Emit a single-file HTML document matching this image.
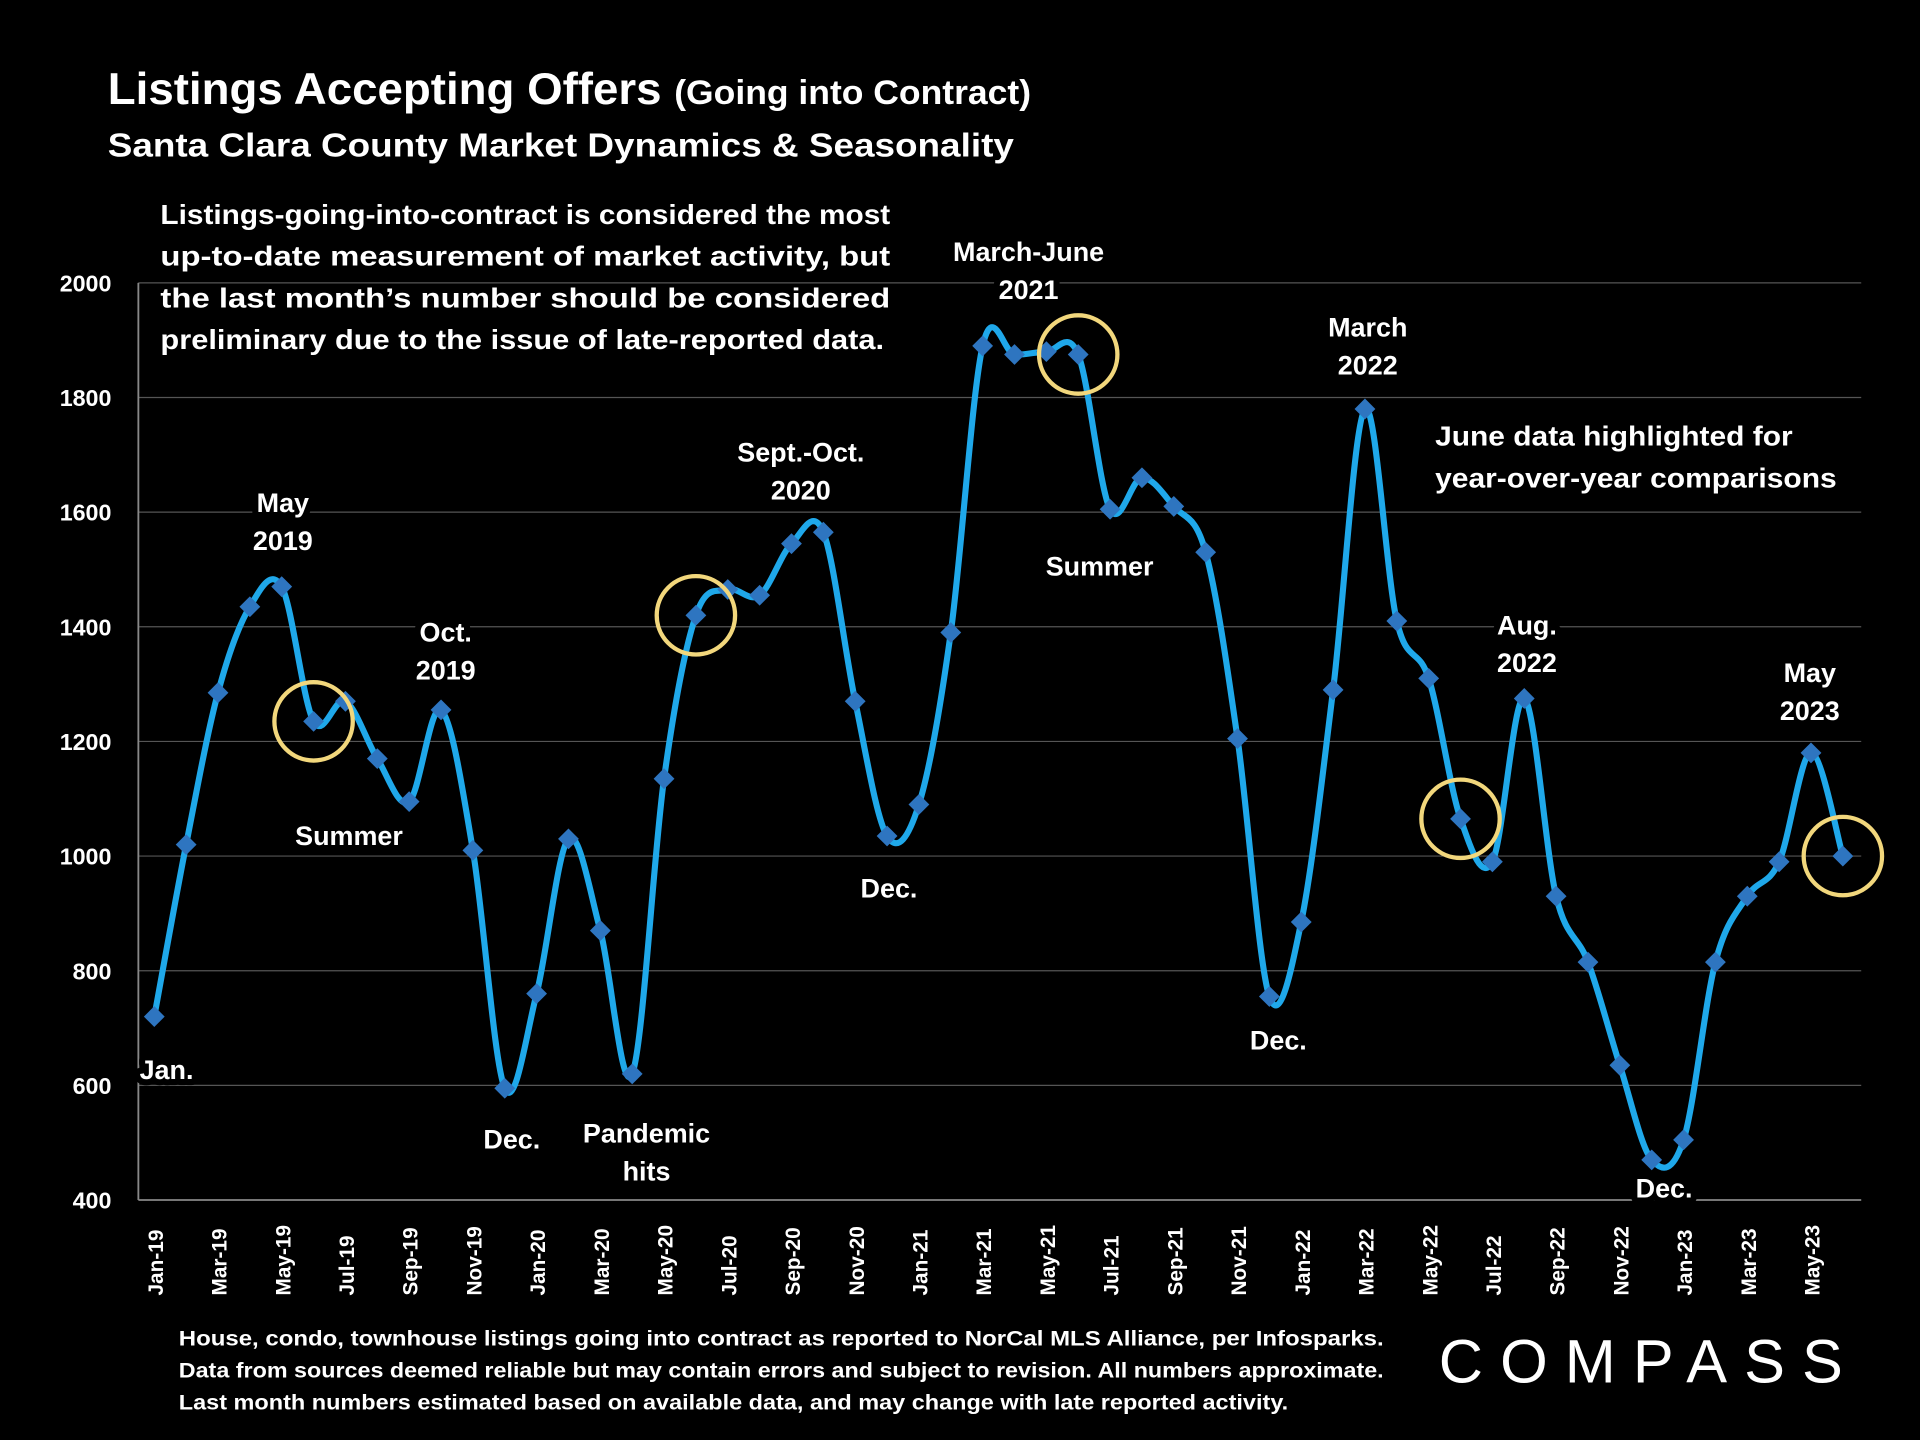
<!DOCTYPE html>
<html><head><meta charset="utf-8"><style>
html,body{margin:0;padding:0;background:#000;}
svg{display:block;}
text{font-family:"Liberation Sans",sans-serif;fill:#fff;font-weight:bold;}
.lbl{paint-order:stroke;stroke:#000;stroke-width:10px;stroke-linejoin:round;font-size:22px;}
</style></head><body>
<svg id="chart" width="1920" height="1440" viewBox="0 0 1568 1176" xmlns="http://www.w3.org/2000/svg">
<rect width="1568" height="1176" fill="#000"/>
<text x="88" y="85" font-size="36" textLength="754" lengthAdjust="spacingAndGlyphs">Listings Accepting Offers <tspan font-size="28">(Going into Contract)</tspan></text>
<text x="88" y="128" font-size="27" textLength="740" lengthAdjust="spacingAndGlyphs">Santa Clara County Market Dynamics &amp; Seasonality</text>
<g id="grid"></g>
<g id="ylabels"></g>
<g id="xlabels"></g>
<path id="line" fill="none" stroke="#1fa8ea" stroke-width="5" stroke-linejoin="round"/>
<g id="markers"></g>
<g id="circles"></g>
<g font-size="23">
<text x="131" y="183" textLength="596" lengthAdjust="spacingAndGlyphs">Listings-going-into-contract is considered the most</text>
<text x="131" y="217" textLength="596" lengthAdjust="spacingAndGlyphs">up-to-date measurement of market activity, but</text>
<text x="131" y="251" textLength="596" lengthAdjust="spacingAndGlyphs">the last month’s number should be considered</text>
<text x="131" y="285" textLength="591" lengthAdjust="spacingAndGlyphs">preliminary due to the issue of late-reported data.</text>
</g>
<g text-anchor="middle">
<text class="lbl" x="231" y="418">May</text><text class="lbl" x="231" y="449">2019</text>
<text class="lbl" x="364" y="524">Oct.</text><text class="lbl" x="364" y="555">2019</text>
<text class="lbl" x="285" y="690">Summer</text>
<text class="lbl" x="136" y="881">Jan.</text>
<text class="lbl" x="418" y="938">Dec.</text>
<text class="lbl" x="528" y="933">Pandemic</text><text class="lbl" x="528" y="964">hits</text>
<text class="lbl" x="654" y="377">Sept.-Oct.</text><text class="lbl" x="654" y="408">2020</text>
<text class="lbl" x="726" y="733">Dec.</text>
<text class="lbl" x="840" y="213">March-June</text><text class="lbl" x="840" y="244">2021</text>
<text class="lbl" x="898" y="470">Summer</text>
<text class="lbl" x="1117" y="275">March</text><text class="lbl" x="1117" y="306">2022</text>
<text class="lbl" x="1044" y="857">Dec.</text>
<text class="lbl" x="1247" y="518">Aug.</text><text class="lbl" x="1247" y="549">2022</text>
<text class="lbl" x="1478" y="557">May</text><text class="lbl" x="1478" y="588">2023</text>
<text class="lbl" x="1359" y="978">Dec.</text>
</g>
<g font-size="23">
<text x="1172" y="364" textLength="292" lengthAdjust="spacingAndGlyphs">June data highlighted for</text>
<text x="1172" y="398" textLength="328" lengthAdjust="spacingAndGlyphs">year-over-year comparisons</text>
</g>
<g font-size="17">
<text x="146" y="1099" textLength="984" lengthAdjust="spacingAndGlyphs">House, condo, townhouse listings going into contract as reported to NorCal MLS Alliance, per Infosparks.</text>
<text x="146" y="1125" textLength="984" lengthAdjust="spacingAndGlyphs">Data from sources deemed reliable but may contain errors and subject to revision. All numbers approximate.</text>
<text x="146" y="1151" textLength="906" lengthAdjust="spacingAndGlyphs">Last month numbers estimated based on available data, and may change with late reported activity.</text>
</g>
<text x="1175" y="1129" font-size="50" style="font-weight:normal" textLength="330" lengthAdjust="spacing">COMPASS</text>
</svg>
<script>
const categories=["Jan-19","Feb-19","Mar-19","Apr-19","May-19","Jun-19","Jul-19","Aug-19","Sep-19","Oct-19","Nov-19","Dec-19","Jan-20","Feb-20","Mar-20","Apr-20","May-20","Jun-20","Jul-20","Aug-20","Sep-20","Oct-20","Nov-20","Dec-20","Jan-21","Feb-21","Mar-21","Apr-21","May-21","Jun-21","Jul-21","Aug-21","Sep-21","Oct-21","Nov-21","Dec-21","Jan-22","Feb-22","Mar-22","Apr-22","May-22","Jun-22","Jul-22","Aug-22","Sep-22","Oct-22","Nov-22","Dec-22","Jan-23","Feb-23","Mar-23","Apr-23","May-23","Jun-23"];
const values=[720,1020,1285,1435,1470,1235,1270,1170,1095,1255,1010,595,760,1030,870,620,1135,1420,1465,1455,1545,1565,1270,1035,1090,1390,1890,1875,1880,1875,1605,1660,1610,1530,1205,755,885,1290,1780,1410,1310,1065,990,1275,930,815,635,470,505,815,930,990,1180,1000];
const yTicks=[400,600,800,1000,1200,1400,1600,1800,2000];
const highlighted=["Jun-19","Jun-20","Jun-21","Jun-22","Jun-23"];
const NS="http://www.w3.org/2000/svg";
const x0=126,x1=1505,yMin=400,yMax=2000,yTop=231,yBot=980;
function xs(i){return x0+(x1-x0)*i/(categories.length-1);}
function ys(v){return yBot-(v-yMin)/(yMax-yMin)*(yBot-yTop);}
function mk(t,a,p){const e=document.createElementNS(NS,t);for(const k in a)e.setAttribute(k,a[k]);p.appendChild(e);return e;}
const grid=document.getElementById('grid'),yl=document.getElementById('ylabels'),xl=document.getElementById('xlabels');
yTicks.forEach(v=>{
 const l=mk('line',{x1:113,x2:1520,y1:ys(v),y2:ys(v),stroke:v===yMin?'#888':'#555','stroke-width':v===yMin?1.5:1},grid);
 
 
 const t=mk('text',{x:91,y:ys(v)+7,'text-anchor':'end','font-size':19},yl);t.textContent=v;
 
 
});
const ax=mk('line',{x1:113,x2:113,y1:yTop,y2:yBot,stroke:'#888','stroke-width':1.5},grid);


categories.forEach((c,i)=>{
 if(i%2)return;
 const t=mk('text',{transform:`translate(${xs(i)+7},1058) rotate(-90)`,'font-size':17},xl);t.textContent=c;
 
 
});
const pts=values.map((v,i)=>[xs(i),ys(v)]);
let d=`M${pts[0][0]},${pts[0][1]}`;
for(let i=0;i<pts.length-1;i++){
 const p0=pts[Math.max(0,i-1)],p1=pts[i],p2=pts[i+1],p3=pts[Math.min(pts.length-1,i+2)];
 const k=1/6;
 d+=` C${p1[0]+(p2[0]-p0[0])*k},${p1[1]+(p2[1]-p0[1])*k} ${p2[0]-(p3[0]-p1[0])*k},${p2[1]-(p3[1]-p1[1])*k} ${p2[0]},${p2[1]}`;
}
document.getElementById('line').setAttribute('d',d);
const mg=document.getElementById('markers');
pts.forEach((p,i)=>{
 const s=8.5;
 const m=mk('polygon',{points:`${p[0]},${p[1]-s} ${p[0]+s},${p[1]} ${p[0]},${p[1]+s} ${p[0]-s},${p[1]}`,fill:'#2e75c0'},mg);
 
 
});
const cg=document.getElementById('circles');
highlighted.forEach(c=>{
 const i=categories.indexOf(c);
 const e=mk('circle',{cx:xs(i),cy:ys(values[i]),r:32,fill:'none',stroke:'#f2d77c','stroke-width':3.5},cg);
 
 
});
</script>
</body></html>
